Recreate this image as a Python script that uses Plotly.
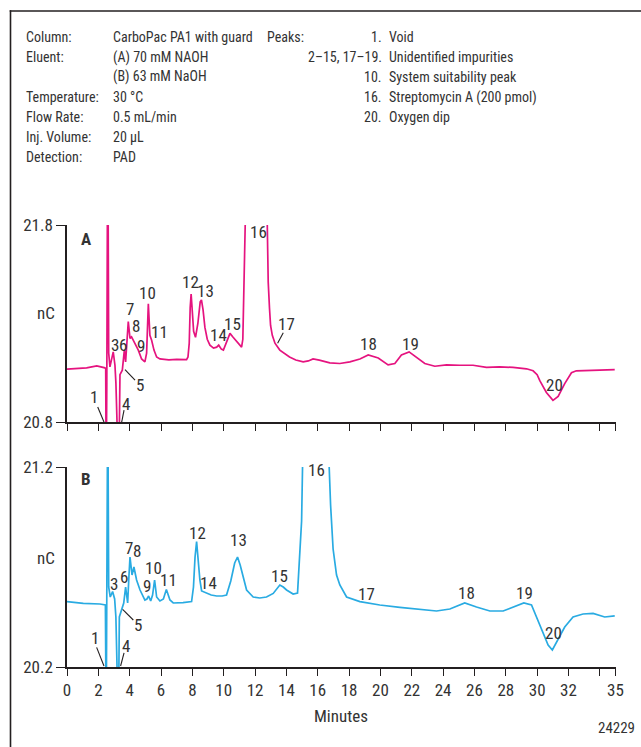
import plotly.graph_objects as go

W, H = 641, 747

# ---------------- data ----------------
time_a = [0, 0.6, 1.25, 1.9, 2.42, 2.47, 2.50, 2.54, 2.60, 2.66, 2.74, 2.95, 3.06, 3.12, 3.17, 3.30, 3.38,
          3.53, 3.66, 3.74, 3.91, 4.02, 4.12, 4.34, 4.55, 4.76, 4.97, 5.08, 5.19, 5.29, 5.40, 5.55, 5.72,
          5.93, 6.5, 7.0, 7.63, 7.72, 7.80, 7.86, 7.92, 7.98, 8.08, 8.20, 8.35, 8.50, 8.58, 8.68, 8.80, 8.95,
          9.12, 9.35, 9.55, 9.68, 9.85, 9.98, 10.15, 10.40, 10.60, 10.82, 11.00, 11.14, 11.22, 11.30, 11.36,
          11.45, 12.00, 12.70, 12.78, 12.84, 12.92, 12.99, 13.10, 13.27, 13.58, 13.90, 14.20, 14.60, 15.07,
          15.40, 15.70, 16.10, 16.56, 16.77, 17.41, 18.05, 18.69, 19.22, 19.86, 20.20, 20.49, 20.92, 21.34,
          21.83, 22.30, 22.83, 23.47, 24.22, 25.06, 25.91, 26.77, 27.60, 28.46, 29.32, 29.74, 30.00, 30.17,
          30.59, 31.01, 31.34, 31.76, 32.00, 32.19, 32.50, 33.14, 33.99, 34.95]
signal_a = [21.068, 21.072, 21.075, 21.085, 21.075, 21.07, 20.5, 21.0, 22.4, 21.15, 21.08, 21.156, 21.088,
            21.0, 20.5, 20.5, 21.04, 21.063, 21.165, 21.105, 21.31, 21.224, 21.232, 21.20, 21.165, 21.12,
            21.105, 21.15, 21.40, 21.24, 21.215, 21.165, 21.13, 21.12, 21.115, 21.118, 21.117, 21.13, 21.2,
            21.38, 21.45, 21.38, 21.26, 21.23, 21.30, 21.41, 21.42, 21.37, 21.28, 21.22, 21.19, 21.175,
            21.18, 21.19, 21.17, 21.165, 21.20, 21.25, 21.23, 21.21, 21.19, 21.18, 21.22, 21.5, 21.8, 22.1,
            22.6, 22.0, 21.8, 21.51, 21.38, 21.29, 21.24, 21.20, 21.165, 21.145, 21.13, 21.115, 21.105,
            21.11, 21.12, 21.114, 21.105, 21.10, 21.097, 21.105, 21.12, 21.14, 21.125, 21.105, 21.09,
            21.097, 21.14, 21.156, 21.13, 21.097, 21.083, 21.09, 21.088, 21.088, 21.077, 21.08, 21.077,
            21.07, 21.06, 21.04, 21.01, 20.95, 20.91, 20.93, 20.995, 21.03, 21.05, 21.06, 21.06, 21.063,
            21.066]

time_b = [0, 1.04, 2.10, 2.45, 2.50, 2.54, 2.60, 2.66, 2.76, 2.91, 3.04, 3.12, 3.18, 3.28, 3.34, 3.50,
          3.62, 3.74, 3.82, 3.87, 3.95, 4.02, 4.15, 4.27, 4.44, 4.66, 4.97, 5.10, 5.21, 5.34, 5.46, 5.59,
          5.72, 5.93, 6.15, 6.34, 6.57, 6.78, 7.40, 7.95, 8.07, 8.17, 8.27, 8.37, 8.48, 8.59, 8.91, 9.20,
          9.55, 9.90, 10.18, 10.45, 10.70, 10.88, 11.05, 11.18, 11.46, 11.88, 12.30, 12.73, 13.16, 13.58,
          13.80, 14.01, 14.43, 14.71, 14.86, 14.97, 15.03, 15.10, 16.00, 16.65, 16.73, 16.82, 16.98, 17.20,
          17.41, 17.84, 18.69, 19.96, 21.24, 22.51, 23.58, 24.43, 25.38, 26.13, 26.98, 27.83, 28.46,
          29.15, 29.64, 29.96, 30.27, 30.70, 30.97, 31.33, 31.76, 32.29, 32.93, 33.57, 34.31, 34.95]
signal_b = [20.527, 20.518, 20.515, 20.51, 19.9, 20.6, 21.6, 20.6, 20.55, 20.577, 20.54, 20.45, 19.9,
            19.9, 20.45, 20.49, 20.52, 20.60, 20.53, 20.52, 20.65, 20.75, 20.66, 20.70, 20.635, 20.585,
            20.535, 20.54, 20.555, 20.53, 20.56, 20.635, 20.55, 20.53, 20.54, 20.588, 20.535, 20.52,
            20.522, 20.527, 20.6, 20.75, 20.827, 20.72, 20.635, 20.58, 20.57, 20.56, 20.555, 20.555, 20.56,
            20.63, 20.72, 20.75, 20.71, 20.668, 20.585, 20.55, 20.545, 20.55, 20.568, 20.61, 20.60, 20.585,
            20.565, 20.57, 20.76, 20.93, 21.2, 21.4, 22.0, 21.4, 21.2, 21.01, 20.79, 20.66, 20.61, 20.55,
            20.527, 20.51, 20.498, 20.488, 20.48, 20.49, 20.52, 20.50, 20.48, 20.48, 20.50, 20.52, 20.51,
            20.45, 20.385, 20.31, 20.285, 20.335, 20.40, 20.45, 20.465, 20.468, 20.45, 20.456]

x_tick_vals = [0, 2, 4, 6, 8, 10, 12, 14, 16, 18, 20, 22, 24, 26, 28, 30, 32, 34, 35]
x_tick_text = ["0", "2", "4", "6", "8", "10", "12", "14", "16", "18", "20", "22", "24", "26", "28",
               "30", "32", "", "35"]
y_ticks_a = [20.8, 21.8]
y_ticks_b = [20.2, 21.2]

# peak labels: (label, time, value)
labels_a = [("2", 2.68, 21.85), ("3", 3.06, 21.19), ("6", 3.56, 21.19), ("7", 4.0, 21.376),
            ("8", 4.42, 21.287), ("9", 4.72, 21.186), ("10", 5.12, 21.456), ("11", 5.89, 21.258),
            ("12", 7.91, 21.512), ("13", 8.84, 21.466), ("14", 9.65, 21.24), ("15", 10.54, 21.295),
            ("16", 12.2, 21.763), ("17", 14.01, 21.30), ("18", 19.26, 21.195), ("19", 21.92, 21.195),
            ("20", 31.12, 20.987), ("1", 1.74, 20.927), ("4", 3.76, 20.893), ("5", 4.66, 20.987)]
labels_b = [("2", 2.70, 21.243), ("3", 3.02, 20.615), ("6", 3.66, 20.652), ("7", 3.98, 20.793),
            ("8", 4.47, 20.78), ("9", 5.12, 20.607), ("10", 5.50, 20.693), ("11", 6.46, 20.635),
            ("12", 8.31, 20.868), ("13", 10.97, 20.835), ("14", 9.01, 20.618), ("15", 13.58, 20.655),
            ("16", 15.92, 21.185), ("17", 19.11, 20.565), ("18", 25.49, 20.572), ("19", 29.21, 20.572),
            ("20", 31.02, 20.368), ("1", 1.79, 20.343), ("4", 3.76, 20.305), ("5", 4.55, 20.41)]
# leader lines: (t0, v0, t1, v1)
leaders_a = [(1.96, 20.876, 2.36, 20.8), (3.64, 20.86, 3.49, 20.8), (4.34, 21.012, 3.70, 21.066),
             (13.80, 21.253, 13.44, 21.20)]
leaders_b = [(1.89, 20.298, 2.36, 20.205), (3.64, 20.271, 3.42, 20.205), (4.23, 20.435, 3.55, 20.488)]

header_left = [("Column:", "CarboPac PA1 with guard"), ("Eluent:", "(A) 70 mM NAOH"),
               ("", "(B) 63 mM NaOH"), ("Temperature:", "30 °C"), ("Flow Rate:", "0.5 mL/min"),
               ("Inj. Volume:", "20 µL"), ("Detection:", "PAD")]
peaks_list = [("1.", "Void"), ("2–15, 17–19.", "Unidentified impurities"),
              ("10.", "System suitability peak"), ("16.", "Streptomycin A (200 pmol)"),
              ("20.", "Oxygen dip")]

# ---------------- styling ----------------
FONT = "Liberation Sans Narrow, Roboto Condensed, DejaVu Sans Condensed, Arial Narrow, sans-serif"
TXT = "#333333"
AX = "#231f20"
MAG = "#E5137F"
CYA = "#29ABE2"


def px_x(p):
    return p / W


def px_y(p):
    return 1 - p / H


def ptext(x, y, text, size, xanchor="center"):
    return dict(x=px_x(x), y=px_y(y), xref="paper", yref="paper", text=text, showarrow=False,
                xanchor=xanchor, yanchor="middle", font=dict(family=FONT, size=size, color=TXT))


fig = go.Figure()
fig.add_trace(go.Scatter(x=time_a, y=signal_a, mode="lines", line=dict(color=MAG, width=1.7),
                         xaxis="x", yaxis="y", hoverinfo="skip"))
fig.add_trace(go.Scatter(x=time_b, y=signal_b, mode="lines", line=dict(color=CYA, width=1.7),
                         xaxis="x2", yaxis="y2", hoverinfo="skip"))

xdom = [px_x(67), px_x(615.5)]
common_x = dict(range=[0, 35], domain=xdom, showgrid=False, zeroline=False, showline=True,
                linecolor=AX, linewidth=1.5, ticks="outside", ticklen=7, tickwidth=1.3, tickcolor=AX,
                tickmode="array", tickvals=x_tick_vals, ticktext=x_tick_text, automargin=False,
                tickfont=dict(family=FONT, size=17, color=TXT), fixedrange=True)
common_y = dict(showgrid=False, zeroline=False, showline=True, linecolor=AX, linewidth=1.5,
                ticks="outside", ticklen=9, tickwidth=1.3, tickcolor=AX, automargin=False,
                tickfont=dict(family=FONT, size=17, color=TXT), fixedrange=True)

annotations = []
shapes = []

for lbl, t, v in labels_a:
    annotations.append(dict(x=t, y=v, xref="x", yref="y", text=lbl, showarrow=False,
                            xanchor="center", yanchor="middle",
                            font=dict(family=FONT, size=17, color=TXT)))
for lbl, t, v in labels_b:
    annotations.append(dict(x=t, y=v, xref="x2", yref="y2", text=lbl, showarrow=False,
                            xanchor="center", yanchor="middle",
                            font=dict(family=FONT, size=17, color=TXT)))
for t0, v0, t1, v1 in leaders_a:
    shapes.append(dict(type="line", xref="x", yref="y", x0=t0, y0=v0, x1=t1, y1=v1,
                       line=dict(color=AX, width=1.1)))
for t0, v0, t1, v1 in leaders_b:
    shapes.append(dict(type="line", xref="x2", yref="y2", x0=t0, y0=v0, x1=t1, y1=v1,
                       line=dict(color=AX, width=1.1)))

# panel letters, axis titles, figure number
annotations.append(ptext(86, 239, "<b>A</b>", 17))
annotations.append(ptext(86, 479, "<b>B</b>", 17))
annotations.append(ptext(57, 313, "nC", 17, "right"))
annotations.append(ptext(57, 558, "nC", 17, "right"))
annotations.append(ptext(341, 716, "Minutes", 17))
annotations.append(ptext(637, 728, "24229", 15, "right"))

# header
HF = 14
row_y = [37, 57, 77, 97, 117, 137, 157]
for (k, v), yy in zip(header_left, row_y):
    if k:
        annotations.append(ptext(24, yy, k, HF, "left"))
    annotations.append(ptext(111, yy, v, HF, "left"))
annotations.append(ptext(265, 37, "Peaks:", HF, "left"))
for (n, d), yy in zip(peaks_list, row_y):
    annotations.append(ptext(384, yy, n, HF, "right"))
    annotations.append(ptext(387, yy, d, HF, "left"))

# frame (kept inside the page)
shapes.append(dict(type="line", xref="paper", yref="paper", x0=px_x(10.5), x1=px_x(10.5),
                   y0=0, y1=px_y(10.2), line=dict(color=AX, width=1.6)))
shapes.append(dict(type="line", xref="paper", yref="paper", x0=px_x(9.7), x1=1,
                   y0=px_y(11), y1=px_y(11), line=dict(color=AX, width=1.6)))

fig.update_layout(
    template="none",
    width=W, height=H, margin=dict(l=0, r=0, t=0, b=0, pad=0, autoexpand=False), showlegend=False,
    paper_bgcolor="white", plot_bgcolor="white",
    xaxis=dict(common_x, anchor="y", showticklabels=False),
    yaxis=dict(common_y, domain=[px_y(422), px_y(225)], range=[20.8, 21.8], anchor="x",
               tickvals=y_ticks_a, ticktext=["20.8", "21.8"]),
    xaxis2=dict(common_x, anchor="y2"),
    yaxis2=dict(common_y, domain=[px_y(667), px_y(467)], range=[20.2, 21.2], anchor="x2",
                tickvals=y_ticks_b, ticktext=["20.2", "21.2"]),
    annotations=annotations, shapes=shapes,
)

fig.write_html("out.html")
